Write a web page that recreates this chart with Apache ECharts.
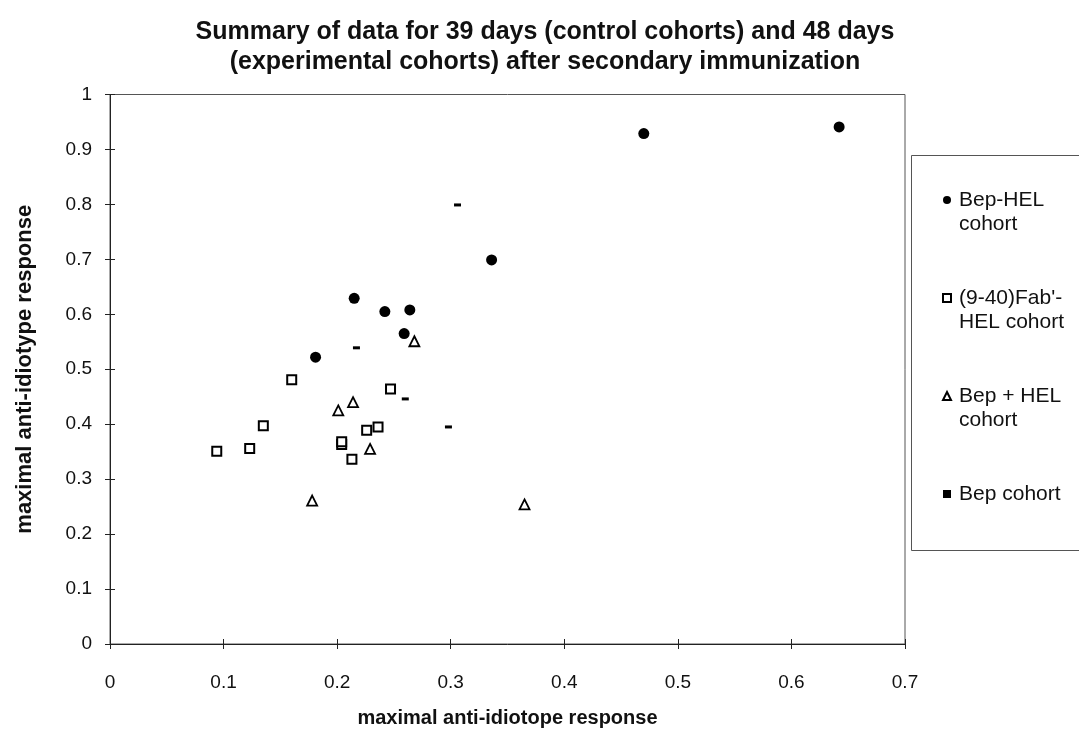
<!DOCTYPE html>
<html>
<head>
<meta charset="utf-8">
<title>Anti-idiotype vs anti-idiotope response</title>
<script src="https://cdn.jsdelivr.net/npm/echarts@6/dist/echarts.min.js"></script>
<style>
  html, body { margin: 0; padding: 0; background: #fff; }
  #chart { width: 1079px; height: 733px; }
</style>
</head>
<body>
<div id="chart"></div>
<script>
// Each point: [maximal anti-idiotope response, maximal anti-idiotype response]
const bepHel = [
  [0.470, 0.929], [0.642, 0.941], [0.336, 0.699], [0.215, 0.629],
  [0.242, 0.605], [0.264, 0.608], [0.259, 0.565], [0.181, 0.522]
];
const fabHel = [
  [0.094, 0.351], [0.123, 0.356], [0.135, 0.397], [0.160, 0.481],
  [0.204, 0.363], [0.204, 0.368], [0.213, 0.336], [0.226, 0.389],
  [0.236, 0.395], [0.247, 0.464]
];
const bepPlusHel = [
  [0.268, 0.551], [0.214, 0.440], [0.201, 0.425], [0.229, 0.355],
  [0.178, 0.261], [0.365, 0.254]
];
const bepOnly = [
  [0.306, 0.799], [0.217, 0.539], [0.260, 0.446], [0.298, 0.395]
];

const seriesNames = ['Bep-HEL cohort', "(9-40)Fab'-HEL cohort", 'Bep + HEL cohort', 'Bep cohort'];
const legendLines = {
  'Bep-HEL cohort': ['Bep-HEL', 'cohort'],
  "(9-40)Fab'-HEL cohort": ["(9-40)Fab'-", 'HEL cohort'],
  'Bep + HEL cohort': ['Bep + HEL', 'cohort'],
  'Bep cohort': ['Bep cohort']
};
const xTicks = [0, 0.1, 0.2, 0.3, 0.4, 0.5, 0.6, 0.7];
const yTicks = [0, 0.1, 0.2, 0.3, 0.4, 0.5, 0.6, 0.7, 0.8, 0.9, 1];

const FONT = "'Liberation Sans', Arial, Helvetica, sans-serif";
const INK = '#111';

const tickFmt = v => String(Math.round(v * 10) / 10);

// Main value axis plus a label-less twin whose inward ticks make the tick marks cross the axis line.
function makeAxes(ticks, main, pos) {
  const base = {
    type: 'value',
    position: pos,
    offset: 0,
    min: ticks[0],
    max: ticks[ticks.length - 1],
    interval: 0.1,
    splitLine: { show: false },
    axisLine: { show: true, onZero: false, lineStyle: { color: '#222', width: 1 } },
    axisTick: { show: true, length: 5, lineStyle: { color: '#222', width: 1 } }
  };
  const twin = Object.assign({}, base, {
    axisLine: { show: false },
    axisTick: { show: true, inside: true, length: 5, lineStyle: { color: '#222', width: 1 } },
    axisLabel: { show: false }
  });
  return [Object.assign({}, base, main), twin];
}

const chart = echarts.init(document.getElementById('chart'), null, { renderer: 'canvas' });

chart.setOption({
  backgroundColor: '#ffffff',
  animation: false,
  textStyle: { fontFamily: FONT, color: INK },
  title: {
    text: 'Summary of data for 39 days (control cohorts) and 48 days\n(experimental cohorts) after secondary immunization',
    left: 540,
    top: 12,
    textAlign: 'center',
    textStyle: { fontFamily: FONT, fontSize: 25, fontWeight: 'bold', lineHeight: 30, color: INK }
  },
  graphic: [{
    type: 'rect',
    shape: { x: 911.5, y: 155.5, width: 200, height: 395 },
    style: { fill: 'none', stroke: '#555', lineWidth: 1 },
    silent: true,
    z: 0
  }],
  legend: {
    orient: 'vertical',
    left: 937,
    top: 159,
    itemGap: 26,
    itemWidth: 8,
    itemHeight: 8,
    data: seriesNames,
    // Blank lines keep each marker level with the first text line.
    formatter: name => {
      const lines = legendLines[name];
      return lines.length === 1 ? '\n' + lines[0] + '\n' : '\n' + lines.join('\n');
    },
    textStyle: { fontFamily: FONT, fontSize: 21, lineHeight: 24, color: INK, padding: [0, 0, 0, 3] }
  },
  grid: {
    left: 110,
    right: 174,
    top: 94.5,
    bottom: 85.5,
    show: true,
    borderColor: '#555',
    borderWidth: 1,
    containLabel: false
  },
  xAxis: makeAxes(xTicks, {
    name: 'maximal anti-idiotope response',
    nameLocation: 'middle',
    nameGap: 64,
    nameTextStyle: { fontFamily: FONT, fontSize: 20, fontWeight: 'bold', color: INK },
    axisLabel: { margin: 29, fontFamily: FONT, fontSize: 19, color: INK, formatter: tickFmt }
  }, 'bottom'),
  yAxis: makeAxes(yTicks, {
    name: 'maximal anti-idiotype response',
    nameLocation: 'middle',
    nameGap: 74,
    nameRotate: 90,
    nameTextStyle: { fontFamily: FONT, fontSize: 22, fontWeight: 'bold', color: INK },
    axisLabel: { margin: 18, fontFamily: FONT, fontSize: 19, color: INK, formatter: tickFmt }
  }, 'left'),
  series: [
    {
      name: seriesNames[0],
      type: 'scatter',
      data: bepHel,
      symbol: 'circle',
      symbolSize: 11,
      itemStyle: { color: '#000', opacity: 1 }
    },
    {
      name: seriesNames[1],
      type: 'scatter',
      data: fabHel,
      symbol: 'rect',
      symbolSize: 9,
      itemStyle: { color: '#fff', borderColor: '#000', borderWidth: 2, opacity: 1 }
    },
    {
      name: seriesNames[2],
      type: 'scatter',
      data: bepPlusHel,
      symbol: 'triangle',
      symbolSize: 10,
      itemStyle: { color: '#fff', borderColor: '#000', borderWidth: 1.8, opacity: 1 }
    },
    {
      name: seriesNames[3],
      type: 'scatter',
      data: bepOnly,
      symbol: 'rect',
      symbolSize: [7, 3],
      itemStyle: { color: '#000', opacity: 1 }
    }
  ]
});
</script>
</body>
</html>
